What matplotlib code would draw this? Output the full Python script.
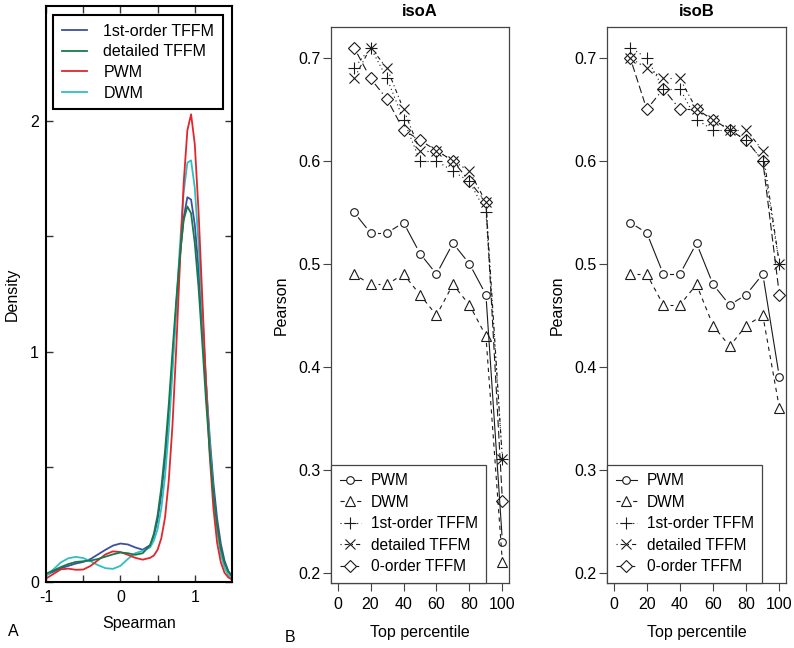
import numpy as np
import matplotlib
matplotlib.use("Agg")
import matplotlib.pyplot as plt
from matplotlib.lines import Line2D

plt.rcParams['font.family'] = ['Liberation Sans', 'DejaVu Sans']
plt.rcParams['lines.scale_dashes'] = False

# ---- panel A: density of Spearman correlations
spearman = [-1.0, -0.9, -0.8, -0.7, -0.6, -0.5, -0.4, -0.3, -0.2, -0.1, 0.0,
            0.1, 0.2, 0.3, 0.4, 0.45, 0.5, 0.55, 0.6, 0.65, 0.7, 0.75, 0.8,
            0.85, 0.9, 0.95, 1.0, 1.05, 1.1, 1.15, 1.2, 1.25, 1.3, 1.35, 1.4,
            1.45, 1.5]
dens_first = [0.03, 0.045, 0.06, 0.07, 0.08, 0.087, 0.10, 0.12, 0.14, 0.158, 0.167,
              0.163, 0.15, 0.14, 0.16, 0.20, 0.27, 0.38, 0.53, 0.72, 0.95, 1.19, 1.41,
              1.58, 1.67, 1.66, 1.55, 1.36, 1.12, 0.87, 0.63, 0.43, 0.275, 0.165, 0.092,
              0.048, 0.023]
dens_detailed = [0.036, 0.05, 0.065, 0.078, 0.087, 0.09, 0.093, 0.10, 0.11, 0.12, 0.128,
                 0.125, 0.118, 0.125, 0.16, 0.21, 0.29, 0.41, 0.57, 0.77, 1.0, 1.22, 1.42,
                 1.57, 1.63, 1.60, 1.47, 1.28, 1.04, 0.79, 0.57, 0.385, 0.245, 0.145, 0.082,
                 0.045, 0.025]
dens_pwm = [0.015, 0.035, 0.055, 0.058, 0.053, 0.054, 0.07, 0.095, 0.12, 0.133, 0.13,
            0.118, 0.105, 0.097, 0.105, 0.115, 0.14, 0.19, 0.28, 0.44, 0.68, 1.01, 1.38,
            1.73, 1.96, 2.03, 1.90, 1.61, 1.24, 0.87, 0.55, 0.32, 0.17, 0.085, 0.04,
            0.02, 0.01]
dens_dwm = [0.025, 0.055, 0.085, 0.103, 0.109, 0.104, 0.09, 0.073, 0.06, 0.057, 0.07,
            0.10, 0.125, 0.135, 0.15, 0.18, 0.23, 0.32, 0.46, 0.66, 0.91, 1.19, 1.46,
            1.69, 1.82, 1.83, 1.71, 1.47, 1.18, 0.87, 0.60, 0.38, 0.22, 0.12, 0.062,
            0.03, 0.014]
dens_names = ['1st-order TFFM', 'detailed TFFM', 'PWM', 'DWM']
dens_colors = ['#3d4f9f', '#177a4c', '#e2262c', '#2fbfc0']

# ---- panel B: Pearson vs top percentile
percentile = [10, 20, 30, 40, 50, 60, 70, 80, 90, 100]
isoA = {
    'PWM':            [0.55, 0.53, 0.53, 0.54, 0.51, 0.49, 0.52, 0.50, 0.47, 0.23],
    'DWM':            [0.49, 0.48, 0.48, 0.49, 0.47, 0.45, 0.48, 0.46, 0.43, 0.21],
    '1st-order TFFM': [0.69, 0.71, 0.68, 0.64, 0.60, 0.60, 0.59, 0.58, 0.55, 0.31],
    'detailed TFFM':  [0.68, 0.71, 0.69, 0.65, 0.61, 0.61, 0.60, 0.59, 0.56, 0.31],
    '0-order TFFM':   [0.71, 0.68, 0.66, 0.63, 0.62, 0.61, 0.60, 0.58, 0.56, 0.27],
}
isoB = {
    'PWM':            [0.54, 0.53, 0.49, 0.49, 0.52, 0.48, 0.46, 0.47, 0.49, 0.39],
    'DWM':            [0.49, 0.49, 0.46, 0.46, 0.48, 0.44, 0.42, 0.44, 0.45, 0.36],
    '1st-order TFFM': [0.71, 0.70, 0.67, 0.67, 0.64, 0.63, 0.63, 0.62, 0.60, 0.50],
    'detailed TFFM':  [0.70, 0.69, 0.68, 0.68, 0.65, 0.64, 0.63, 0.63, 0.61, 0.50],
    '0-order TFFM':   [0.70, 0.65, 0.67, 0.65, 0.65, 0.64, 0.63, 0.62, 0.60, 0.47],
}
model_names = ['PWM', 'DWM', '1st-order TFFM', 'detailed TFFM', '0-order TFFM']
markers = ['o', '^', '+', 'x', 'D']
msizes = [5.5, 7, 9, 7, 6.5]
linestyles = ['-', (0, (3, 3)), (0, (0.8, 2.2)), (0, (0.8, 2.2, 3, 2.2)), (0, (5.5, 2.5))]
ink = '#1a1a1a'

fig = plt.figure(figsize=(7.94, 6.48), dpi=100)
W, H = 794.0, 648.0


def px_axes(x0, y0, x1, y1):
    return fig.add_axes([x0 / W, 1 - y1 / H, (x1 - x0) / W, (y1 - y0) / H])


# ---------------- panel A
axA = px_axes(46, 6, 232, 582)
dens_series = [dens_first, dens_detailed, dens_pwm, dens_dwm]
for i in [0, 3, 2, 1]:
    axA.plot(spearman, dens_series[i], color=dens_colors[i], lw=1.3)
axA.set_xlim(-1, 1.5)
axA.set_ylim(0, 2.5)
axA.set_xticks([-1, -0.5, 0, 0.5, 1])
axA.set_xticklabels(['-1', '', '0', '', '1'])
axA.set_yticks([0, 0.5, 1, 1.5, 2])
axA.set_yticklabels(['0', '', '1', '', '2'])
axA.tick_params(direction='in', length=5, width=1, top=True, right=True,
                labelsize=11.5, colors='#333333', labelcolor='black')
axA.tick_params(axis='x', pad=6)
axA.tick_params(axis='y', pad=5)
for s in axA.spines.values():
    s.set_linewidth(1.5)
axA.set_xlabel('Spearman', fontsize=11.5)
axA.xaxis.set_label_coords(0.5, -0.059)
axA.set_ylabel('Density', fontsize=11.5)
axA.yaxis.set_label_coords(-0.14, 0.5)
handlesA = [Line2D([], [], color=c, lw=1.3) for c in dens_colors]
legA = axA.legend(handlesA, dens_names, loc='upper left',
                  bbox_to_anchor=(7 / 186, 1 - 9 / 576), borderaxespad=0,
                  fontsize=11.5, handlelength=1.6, handletextpad=1.0,
                  labelspacing=0.35, borderpad=0.55, fancybox=False,
                  framealpha=1, edgecolor='black')
legA.get_frame().set_linewidth(1.5)


# ---------------- panel B
def gapped_line(ax, xs, ys, ls, gap=7.0):
    pts = ax.transData.transform(np.column_stack([xs, ys]))
    inv = ax.transData.inverted()
    for p0, p1 in zip(pts[:-1], pts[1:]):
        d = p1 - p0
        L = np.hypot(d[0], d[1])
        if L <= 2 * gap:
            continue
        u = d / L
        a = inv.transform(p0 + u * gap)
        b = inv.transform(p1 - u * gap)
        ax.plot([a[0], b[0]], [a[1], b[1]], ls=ls, color=ink, lw=0.8)


def panel_b(ax, data, title):
    ax.set_xlim(-4, 104)
    ax.set_ylim(0.19, 0.73)
    for name, mk, ms, ls in zip(model_names, markers, msizes, linestyles):
        gapped_line(ax, percentile, data[name], ls)
        ax.plot(percentile, data[name], ls='none', marker=mk, ms=ms,
                mfc='none', mec=ink, mew=0.8)
    ax.set_xticks([0, 20, 40, 60, 80, 100])
    ax.set_yticks([0.2, 0.3, 0.4, 0.5, 0.6, 0.7])
    ax.set_yticklabels(['0.2', '0.3', '0.4', '0.5', '0.6', '0.7'])
    ax.tick_params(direction='out', length=6, width=0.8, colors='#444444',
                   labelcolor='black', labelsize=11.5)
    ax.tick_params(axis='x', pad=4)
    ax.tick_params(axis='y', pad=1.5)
    for s in ax.spines.values():
        s.set_linewidth(0.9)
        s.set_color('#444444')
    ax.set_title(title, fontsize=12, fontweight='bold', pad=8)
    ax.set_xlabel('Top percentile', fontsize=11.5)
    ax.xaxis.set_label_coords(0.5, -0.0755)
    ax.set_ylabel('Pearson', fontsize=11.5)
    ax.yaxis.set_label_coords(-0.236, 0.5)
    handles = [Line2D([], [], color=ink, lw=0.8, ls=ls, marker=mk, ms=ms,
                      mfc='white', mec=ink, mew=0.8)
               for mk, ms, ls in zip(markers, msizes, linestyles)]
    leg = ax.legend(handles, model_names, loc='lower left', borderaxespad=0,
                    fontsize=11.2, handlelength=1.4, handletextpad=0.6,
                    labelspacing=0.42, borderpad=0.55, fancybox=False,
                    framealpha=1, edgecolor='#444444')
    leg.get_frame().set_linewidth(0.9)


axB1 = px_axes(331, 27, 509, 583)
panel_b(axB1, isoA, 'isoA')
axB2 = px_axes(607, 27, 786, 583)
panel_b(axB2, isoB, 'isoB')

fig.text(8 / W, 1 - 632 / H, 'A', fontsize=11.5, va='center', ha='left')
fig.text(290 / W, 1 - 638 / H, 'B', fontsize=11.5, va='center', ha='center')

fig.savefig('out.png', dpi=100)
